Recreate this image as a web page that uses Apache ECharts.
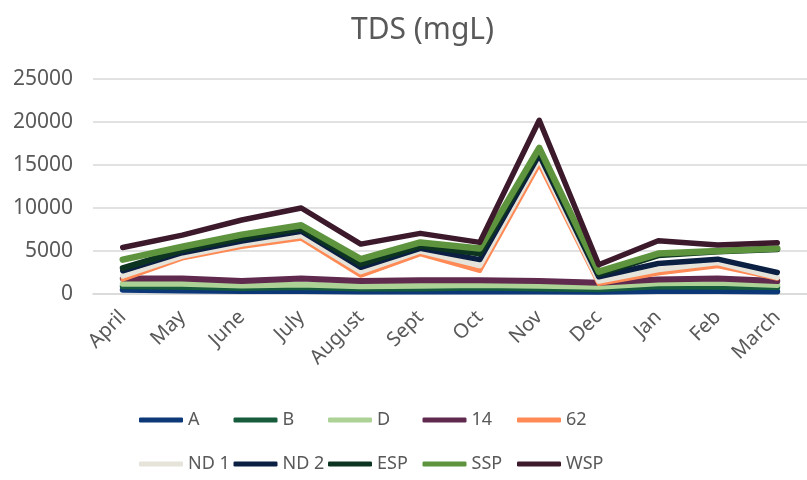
<!DOCTYPE html>
<html lang="en">
<head>
  <meta charset="UTF-8">
  <title>TDS (mgL)</title>
  <style>
    html, body { margin: 0; padding: 0; background: #fff; }
    #chart { width: 807px; height: 480px; }
  </style>
  <script src="https://cdn.jsdelivr.net/npm/echarts@6/dist/echarts.min.js"></script>
</head>
<body>
  <div id="chart"></div>
  <script>
    // months along the x axis
    const months = ['April', 'May', 'June', 'July', 'August', 'Sept', 'Oct', 'Nov', 'Dec', 'Jan', 'Feb', 'March'];
    const yTicks = [0, 5000, 10000, 15000, 20000, 25000];

    // values
    const A    = [500, 400, 350, 350, 300, 300, 300, 300, 250, 350, 350, 300];
    const B    = [900, 850, 700, 800, 650, 650, 750, 650, 550, 900, 850, 800];
    const D    = [1200, 1200, 1000, 1100, 900, 950, 1050, 950, 850, 1250, 1300, 1050];
    const s14  = [1800, 1800, 1500, 1800, 1500, 1600, 1600, 1500, 1300, 1700, 1800, 1500];
    const s62  = [1700, 4150, 5500, 6450, 2150, 4650, 2700, 15100, 1200, 2400, 3250, 1800];
    const ND1  = [2100, 4400, 5800, 6800, 2600, 5000, 3300, 15700, 1500, 2850, 3650, 1950];
    const ND2  = [2700, 4800, 6150, 7300, 3100, 5300, 4000, 16200, 2000, 3550, 4050, 2500];
    const ESP  = [3000, 5100, 6500, 7600, 3500, 5600, 4700, 16600, 2300, 4500, 4950, 5200];
    const SSP  = [4000, 5500, 6900, 8000, 4050, 6000, 5300, 17000, 2600, 4700, 5000, 5300];
    const WSP  = [5400, 6850, 8600, 10000, 5800, 7050, 6000, 20200, 3400, 6200, 5700, 5950];

    const names  = ['A', 'B', 'D', '14', '62', 'ND 1', 'ND 2', 'ESP', 'SSP', 'WSP'];
    const values = [A, B, D, s14, s62, ND1, ND2, ESP, SSP, WSP];
    const colors = ['#0c3877', '#165b3b', '#acd296', '#5f2a4e', '#ff8a55',
                    '#e5e3da', '#0b1f43', '#0c3420', '#5f943f', '#3c1a2c'];
    const widths = [6, 6, 6, 6, 4.5, 5.5, 5.5, 6, 6.5, 5.5];

    const textColor = '#595959';
    const font = 'Noto Sans, Liberation Sans, sans-serif';

    const series = names.map((n, i) => ({
      name: n,
      type: 'line',
      data: values[i],
      symbol: 'none',
      color: colors[i],
      lineStyle: { width: widths[i], color: colors[i], cap: 'round', join: 'round' },
      emphasis: { disabled: true },
      animation: false
    }));

    // one legend per entry so the columns line up like the original
    const legends = names.map((n, i) => ({
      data: [n],
      icon: 'roundRect',
      itemWidth: 44,
      itemHeight: 5,
      itemGap: 0,
      left: 139 + (i % 5) * 94.5,
      top: i < 5 ? 411 : 455,
      padding: 0,
      textStyle: { color: textColor, fontSize: 18, fontFamily: font }
    }));

    const chart = echarts.init(document.getElementById('chart'));
    chart.setOption({
      backgroundColor: '#fff',
      title: {
        text: 'TDS (mgL)',
        left: 346,
        top: 10,
        textStyle: { color: textColor, fontSize: 30, fontWeight: 'normal', fontFamily: font }
      },
      legend: legends,
      grid: { left: 93, right: -10, top: 79, bottom: 186, containLabel: false },
      xAxis: {
        type: 'category',
        data: months,
        boundaryGap: true,
        axisLine: { lineStyle: { color: '#d9d9d9', width: 1.5 } },
        axisTick: { show: false },
        axisLabel: { rotate: 45, color: textColor, fontSize: 20, fontFamily: font, margin: 20, interval: 0 }
      },
      yAxis: {
        type: 'value',
        min: yTicks[0],
        max: yTicks[yTicks.length - 1],
        interval: yTicks[1] - yTicks[0],
        axisLine: { show: false },
        axisTick: { show: false },
        splitLine: { lineStyle: { color: '#d9d9d9', width: 1.5 } },
        axisLabel: { color: textColor, fontSize: 21, fontFamily: font, margin: 20, formatter: v => String(v) }
      },
      series: series
    });
  </script>
</body>
</html>
